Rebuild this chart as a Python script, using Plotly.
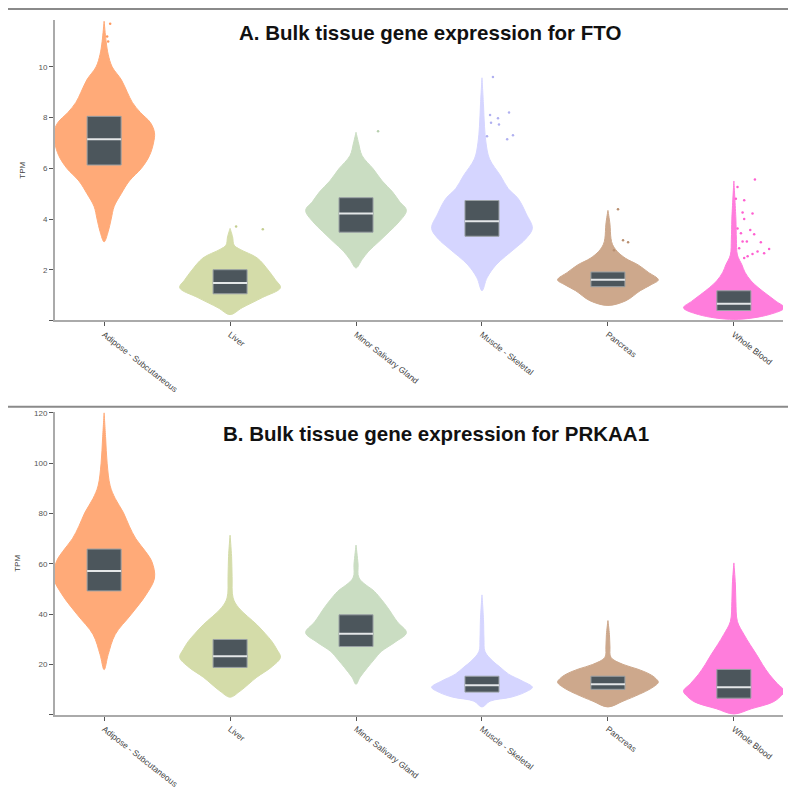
import plotly.graph_objects as go
from plotly.subplots import make_subplots

tissues = ["Adipose - Subcutaneous", "Liver", "Minor Salivary Gland",
           "Muscle - Skeletal", "Pancreas", "Whole Blood"]
colors = ["#FFAA78", "#D4DCA9", "#CADDC2", "#D5D5FF", "#CDA88C", "#FF7DDC"]
dot_colors = ["#FF9A60", "#C4CE90", "#B7CFAE", "#B0B0F0", "#B98F70", "#FF5FD0"]

# ---------- Panel A: FTO (TPM) ----------
fto_levels = [
    [3.1, 3.5, 4.0, 4.5, 5.0, 5.5, 6.0, 6.5, 7.0, 7.4, 7.8, 8.2, 8.6, 9.0, 9.5, 10.0, 10.5, 11.0, 11.8],
    [0.23, 0.5, 0.9, 1.29, 1.6, 1.95, 2.46, 2.8, 2.97, 3.3, 3.63],
    [2.07, 2.4, 2.73, 3.1, 3.5, 3.9, 4.34, 4.7, 5.08, 5.5, 5.98, 6.5, 7.0, 7.42],
    [1.17, 1.68, 2.19, 2.85, 3.2, 3.63, 4.2, 4.8, 5.2, 5.7, 6.37, 7.0, 7.66, 8.5, 9.57],
    [0.59, 0.78, 1.17, 1.4, 1.6, 1.9, 2.19, 2.45, 2.73, 3.0, 3.24, 3.8, 4.34],
    [0.04, 0.23, 0.5, 0.75, 1.02, 1.3, 1.56, 1.9, 2.19, 2.58, 3.2, 4.0, 5.5],
]
fto_density = [
    [0.0, 0.08, 0.14, 0.2, 0.34, 0.5, 0.74, 0.9, 0.98, 1.0, 0.92, 0.72, 0.56, 0.46, 0.34, 0.16, 0.08, 0.04, 0.0],
    [0.0, 0.24, 0.64, 1.0, 0.9, 0.77, 0.54, 0.2, 0.08, 0.05, 0.0],
    [0.0, 0.12, 0.25, 0.45, 0.66, 0.86, 1.0, 0.86, 0.72, 0.52, 0.34, 0.12, 0.05, 0.0],
    [0.0, 0.1, 0.28, 0.66, 0.86, 1.0, 0.88, 0.72, 0.52, 0.37, 0.15, 0.08, 0.05, 0.03, 0.0],
    [0.0, 0.36, 0.64, 0.85, 1.0, 0.8, 0.6, 0.35, 0.18, 0.09, 0.06, 0.04, 0.0],
    [0.0, 0.7, 1.0, 0.84, 0.66, 0.48, 0.34, 0.22, 0.16, 0.07, 0.05, 0.04, 0.0],
]
fto_q1 = [6.13, 1.05, 3.48, 3.32, 1.33, 0.39]
fto_median = [7.15, 1.48, 4.22, 3.91, 1.60, 0.66]
fto_q3 = [8.05, 2.00, 4.84, 4.73, 1.91, 1.17]

fto_out_tissue = [0, 0, 0, 0, 1, 1, 2,
                  3, 3, 3, 3, 3, 3, 3, 3, 3,
                  4, 4, 4, 4,
                  5, 5, 5, 5, 5, 5, 5, 5, 5, 5, 5, 5, 5, 5, 5, 5, 5, 5, 5, 5, 5]
fto_out_value = [11.9, 11.7, 11.2, 11.0, 3.7, 3.6, 7.46,
                 9.6, 8.1, 7.97, 8.2, 7.73, 7.8, 7.15, 7.3, 7.26,
                 4.38, 3.16, 3.08, 2.77,
                 5.56, 4.74, 4.22, 4.26, 4.0, 3.57, 3.4, 3.44, 3.11, 3.11, 3.08,
                 2.82, 2.72, 2.62, 2.53, 2.46, 2.65, 2.85, 3.63, 4.8, 5.26]
fto_out_jitter = [0.064, 0.048, 0.024, 0.032, 0.048, 0.26, 0.175,
                  0.087, 0.064, 0.127, 0.215, 0.135, 0.072, 0.2, 0.246, 0.04,
                  0.08, 0.12, 0.16, 0.048,
                  0.167, 0.082, 0.148, 0.069, 0.082, 0.13, 0.161, 0.056, 0.069, 0.103, 0.214,
                  0.28, 0.188, 0.148, 0.109, 0.082, 0.24, 0.042, 0.029, 0.016, 0.029]

# ---------- Panel B: PRKAA1 (TPM) ----------
prk_levels = [
    [18, 24, 32, 39.8, 47.7, 54.4, 60.8, 65, 70, 75, 80.5, 86, 91, 100, 110, 120],
    [7.1, 9.5, 15, 19, 22.9, 26, 29.2, 32.5, 35.9, 42.6, 46.5, 55, 63, 71.4],
    [12.2, 15, 18.9, 22, 25.2, 29, 32.7, 37, 42.6, 46, 49, 54.4, 60, 67.5],
    [3.2, 5.5, 7.1, 9, 11, 13.5, 16.2, 19, 21.3, 25.2, 30, 38, 47.7],
    [3.2, 5.5, 8.3, 10.5, 13, 14.5, 16.2, 18.3, 20.1, 22.9, 27, 32, 37.5],
    [0.4, 2.5, 5.1, 7.3, 9.5, 12.5, 16.2, 20, 24, 28, 32, 37.1, 45, 52, 60.4],
]
prk_density = [
    [0.0, 0.08, 0.22, 0.53, 0.83, 1.0, 0.95, 0.82, 0.63, 0.5, 0.38, 0.22, 0.12, 0.06, 0.03, 0.0],
    [0.0, 0.2, 0.53, 0.82, 1.0, 0.93, 0.83, 0.69, 0.53, 0.17, 0.06, 0.04, 0.03, 0.0],
    [0.0, 0.08, 0.23, 0.36, 0.5, 0.78, 1.0, 0.82, 0.63, 0.5, 0.37, 0.06, 0.04, 0.0],
    [0.0, 0.16, 0.58, 0.85, 1.0, 0.8, 0.53, 0.36, 0.22, 0.06, 0.04, 0.03, 0.0],
    [0.0, 0.3, 0.63, 0.85, 1.0, 0.95, 0.83, 0.58, 0.3, 0.06, 0.04, 0.03, 0.0],
    [0.0, 0.35, 0.77, 0.92, 1.0, 0.86, 0.7, 0.57, 0.45, 0.32, 0.2, 0.07, 0.04, 0.03, 0.0],
]
prk_q1 = [49.3, 18.9, 27.2, 9.1, 10.2, 6.7]
prk_median = [57.2, 23.3, 32.3, 11.8, 12.2, 11.0]
prk_q3 = [65.9, 30.0, 39.8, 15.4, 15.4, 18.1]

y_ticks_a = [0, 2, 4, 6, 8, 10]
y_ticks_b = [0, 20, 40, 60, 80, 100, 120]

HALF_W = 0.40
BOX_HW = 0.135

fig = make_subplots(rows=2, cols=1, vertical_spacing=0.0)


def add_panel(row, levels, density, q1, med, q3):
    for i, (lv, dn) in enumerate(zip(levels, density)):
        xs = [i + HALF_W * d for d in dn] + [i - HALF_W * d for d in reversed(dn)]
        ys = list(lv) + list(reversed(lv))
        fig.add_trace(go.Scatter(x=xs, y=ys, mode="lines", fill="toself",
                                 fillcolor=colors[i],
                                 line=dict(color=colors[i], width=1, shape="spline", smoothing=1.0),
                                 hoverinfo="skip", showlegend=False), row=row, col=1)
    for i in range(len(tissues)):
        fig.add_trace(go.Scatter(x=[i - BOX_HW, i + BOX_HW, i + BOX_HW, i - BOX_HW, i - BOX_HW],
                                 y=[q1[i], q1[i], q3[i], q3[i], q1[i]],
                                 mode="lines", fill="toself", fillcolor="#4C565C",
                                 line=dict(color="#9AA1A5", width=1),
                                 hoverinfo="skip", showlegend=False), row=row, col=1)
        fig.add_trace(go.Scatter(x=[i - BOX_HW, i + BOX_HW], y=[med[i], med[i]],
                                 mode="lines", line=dict(color="#E4E7E8", width=2),
                                 hoverinfo="skip", showlegend=False), row=row, col=1)


add_panel(1, fto_levels, fto_density, fto_q1, fto_median, fto_q3)
fig.add_trace(go.Scatter(x=[t + j for t, j in zip(fto_out_tissue, fto_out_jitter)], y=fto_out_value,
                         mode="markers", marker=dict(size=2.5, color=[dot_colors[t] for t in fto_out_tissue]),
                         showlegend=False, hoverinfo="skip", cliponaxis=False), row=1, col=1)
add_panel(2, prk_levels, prk_density, prk_q1, prk_median, prk_q3)

dom_a = [(721 - 323) / 701, 1.0]
dom_b = [0.0, (721 - 415) / 701]

axis_common = dict(showgrid=False, zeroline=False, showline=True, linecolor="#AAAAAA", linewidth=2,
                   ticks="outside", ticklen=4, tickcolor="#555555")
for r, dom, tv, rng in [(1, dom_a, y_ticks_a, [0, 11.85]), (2, dom_b, y_ticks_b, [0, 120.5])]:
    fig.update_yaxes(row=r, col=1, domain=dom, range=rng, tickvals=tv,
                     ticktext=[""] + [str(v) for v in tv[1:]],
                     tickfont=dict(size=8, color="#555555", family="Liberation Sans"),
                     title=dict(text="TPM", font=dict(size=8, color="#444444", family="Liberation Sans"), standoff=12),
                     **axis_common)
    fig.update_xaxes(row=r, col=1, range=[-0.39, 5.39], tickvals=list(range(len(tissues))),
                     ticktext=tissues, tickangle=38,
                     tickfont=dict(size=8.5, color="#444444", family="Liberation Sans"),
                     **axis_common)

fig.update_layout(
    width=788, height=794, margin=dict(l=55, r=5, t=20, b=73),
    paper_bgcolor="white", plot_bgcolor="white",
    annotations=[
        dict(text="<b>A. Bulk tissue gene expression for FTO</b>", xref="paper", yref="paper",
             x=(430 - 55) / 728, y=(721 - 33) / 701, xanchor="center", yanchor="middle", showarrow=False,
             font=dict(size=20.5, color="#111111", family="Liberation Sans")),
        dict(text="<b>B. Bulk tissue gene expression for PRKAA1</b>", xref="paper", yref="paper",
             x=(436 - 55) / 728, y=(721 - 437) / 701, xanchor="center", yanchor="middle", showarrow=False,
             font=dict(size=20.5, color="#111111", family="Liberation Sans")),
    ],
    shapes=[
        dict(type="line", xref="paper", yref="paper", x0=(8 - 55) / 728, x1=(788 - 55) / 728,
             y0=(721 - 9) / 701, y1=(721 - 9) / 701, line=dict(color="#8A8A8A", width=2)),
        dict(type="line", xref="paper", yref="paper", x0=(8 - 55) / 728, x1=(788 - 55) / 728,
             y0=(721 - 410) / 701, y1=(721 - 410) / 701, line=dict(color="#8A8A8A", width=2)),
    ],
)

fig.write_html("out.html")
